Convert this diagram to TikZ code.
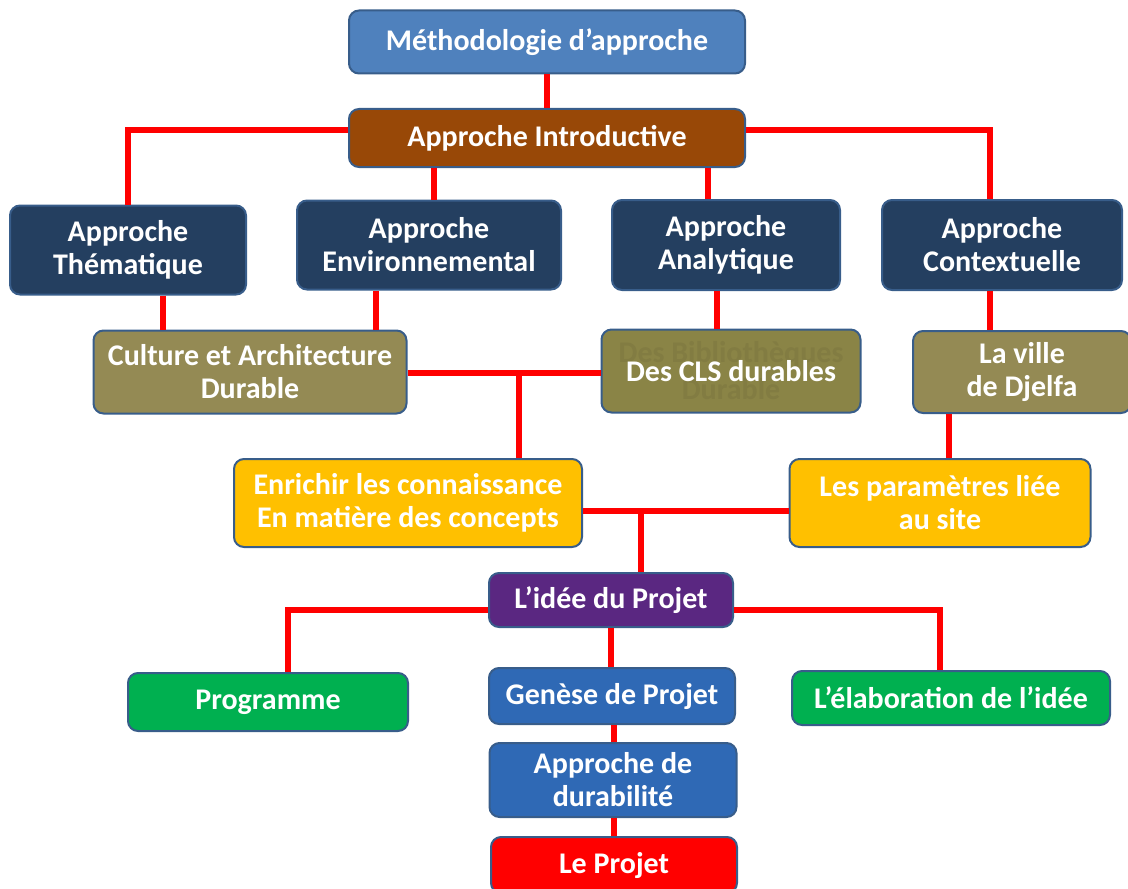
\documentclass[tikz,border=0pt]{standalone}
\usepackage{fontspec}
\setmainfont{Carlito}
\definecolor{boxline}{HTML}{385D8A}
\definecolor{linkred}{HTML}{FF0000}
\definecolor{methblue}{HTML}{4F81BD}
\definecolor{introbrown}{HTML}{984807}
\definecolor{navy}{HTML}{243F60}
\definecolor{olivebox}{HTML}{948A54}
\definecolor{olivedark}{HTML}{8A8446}
\definecolor{goldbox}{HTML}{FFC000}
\definecolor{purplebox}{HTML}{5A2781}
\definecolor{greenbox}{HTML}{00B050}
\definecolor{bluebox}{HTML}{2F69B5}
\definecolor{redbox}{HTML}{FF0000}

\begin{document}
\begin{tikzpicture}[x=0.5pt,y=-0.5pt,
  box/.style={draw=boxline,line width=1pt,rounded corners=5pt,text=white,
    font=\bfseries\fontsize{15}{16.5}\selectfont,align=center,inner sep=0pt},
  link/.style={draw=linkred,line width=3pt}]
\useasboundingbox (0,0) rectangle (1128,888);

% boxes
\node[box,fill=methblue,minimum width=198pt,minimum height=31.5pt] (methodo) at (547,42) {Méthodologie d’approche};
\node[box,fill=introbrown,minimum width=198pt,minimum height=29pt] (intro) at (547,138) {Approche Introductive};

\node[box,fill=navy,minimum width=118pt,minimum height=44.5pt] (them) at (128,250) {Approche\\Thématique};
\node[box,fill=navy,minimum width=132pt,minimum height=44.5pt] (env) at (429,245) {Approche\\Environnemental};
\node[box,fill=navy,minimum width=114pt,minimum height=45pt] (anal) at (726,245) {Approche\\Analytique};
\node[box,fill=navy,minimum width=120pt,minimum height=45pt] (ctx) at (1002,245) {Approche\\Contextuelle};

\node[box,fill=olivebox,minimum width=156.5pt,minimum height=41.5pt] (cult) at (250,372) {Culture et Architecture\\Durable};
\node[box,fill=olivedark,text=olivedark!94!black,font=\bfseries\fontsize{15}{18.5}\selectfont,minimum width=129.5pt,minimum height=41.5pt] (cls) at (731,371) {Des Bibliothèques\\Durable};
\node[text=white,font=\bfseries\fontsize{15}{16.5}\selectfont] (clslabel) at (cls) {Des CLS durables};
\node[box,fill=olivebox,minimum width=109pt,minimum height=41pt] (ville) at (1022,372) {La ville\\de Djelfa};

\node[box,fill=goldbox,minimum width=174pt,minimum height=44pt] (enr) at (408,503) {Enrichir les connaissance\\En matière des concepts};
\node[box,fill=goldbox,minimum width=150.5pt,minimum height=44pt] (param) at (940,503) {Les paramètres liée\\au site};

\node[box,fill=purplebox,minimum width=122pt,minimum height=27pt] (idee) at (611,600) {L’idée du Projet};
\node[box,fill=greenbox,minimum width=140pt,minimum height=29pt] (prog) at (268,702) {Programme};
\node[box,fill=bluebox,minimum width=123pt,minimum height=28pt] (genese) at (612,696) {Genèse de Projet};
\node[box,fill=greenbox,minimum width=159pt,minimum height=27pt] (elab) at (951,698) {L’élaboration de l’idée};
\node[box,fill=bluebox,minimum width=123.5pt,minimum height=37pt] (durab) at (613,780) {Approche de\\durabilité};
\node[box,fill=redbox,minimum width=123pt,minimum height=28pt] (projet) at (614,865) {Le Projet};

\coordinate (j1) at (519,373);
\coordinate (j2) at (641,511);

% connectors
\draw[link] (methodo.south) -- (intro.north);
\draw[link] ([yshift=4pt]intro.west) -| (them.north);
\draw[link] ([yshift=4pt]intro.east) -| ([xshift=-6pt]ctx.north);
\draw[link] ([xshift=2.5pt]env.north) -- ([xshift=2.5pt]env.north |- intro.south);
\draw[link] ([xshift=-9pt]anal.north) -- ([xshift=-9pt]anal.north |- intro.south);
\draw[link] ([xshift=17.5pt]them.south) -- ([xshift=17.5pt]them.south |- cult.north);
\draw[link] ([xshift=-26.5pt]env.south) -- ([xshift=-26.5pt]env.south |- cult.north);
\draw[link] ([xshift=-4.5pt]anal.south) -- ([xshift=-4.5pt]anal.south |- cls.north);
\draw[link] ([xshift=-6pt]ctx.south) -- ([xshift=-6pt]ctx.south |- ville.north);
\draw[link] (cult.east |- j1) -- (cls.west |- j1);
\draw[link] (j1) -- (j1 |- enr.north);
\draw[link] ([xshift=-36.5pt]ville.south) -- ([xshift=-36.5pt]ville.south |- param.north);
\draw[link] (enr.east |- j2) -- (param.west |- j2);
\draw[link] (j2) -- (j2 |- idee.north);
\draw[link] ([yshift=-5pt]idee.west) -| ([xshift=10pt]prog.north);
\draw[link] ([yshift=-5pt]idee.east) -| ([xshift=-5.5pt]elab.north);
\draw[link] (idee.south) -- (idee.south |- genese.north);
\draw[link] ([xshift=1pt]genese.south) -- ([xshift=1pt]genese.south |- durab.north);
\draw[link] ([xshift=0.5pt]durab.south) -- ([xshift=0.5pt]durab.south |- projet.north);
\end{tikzpicture}
\end{document}
